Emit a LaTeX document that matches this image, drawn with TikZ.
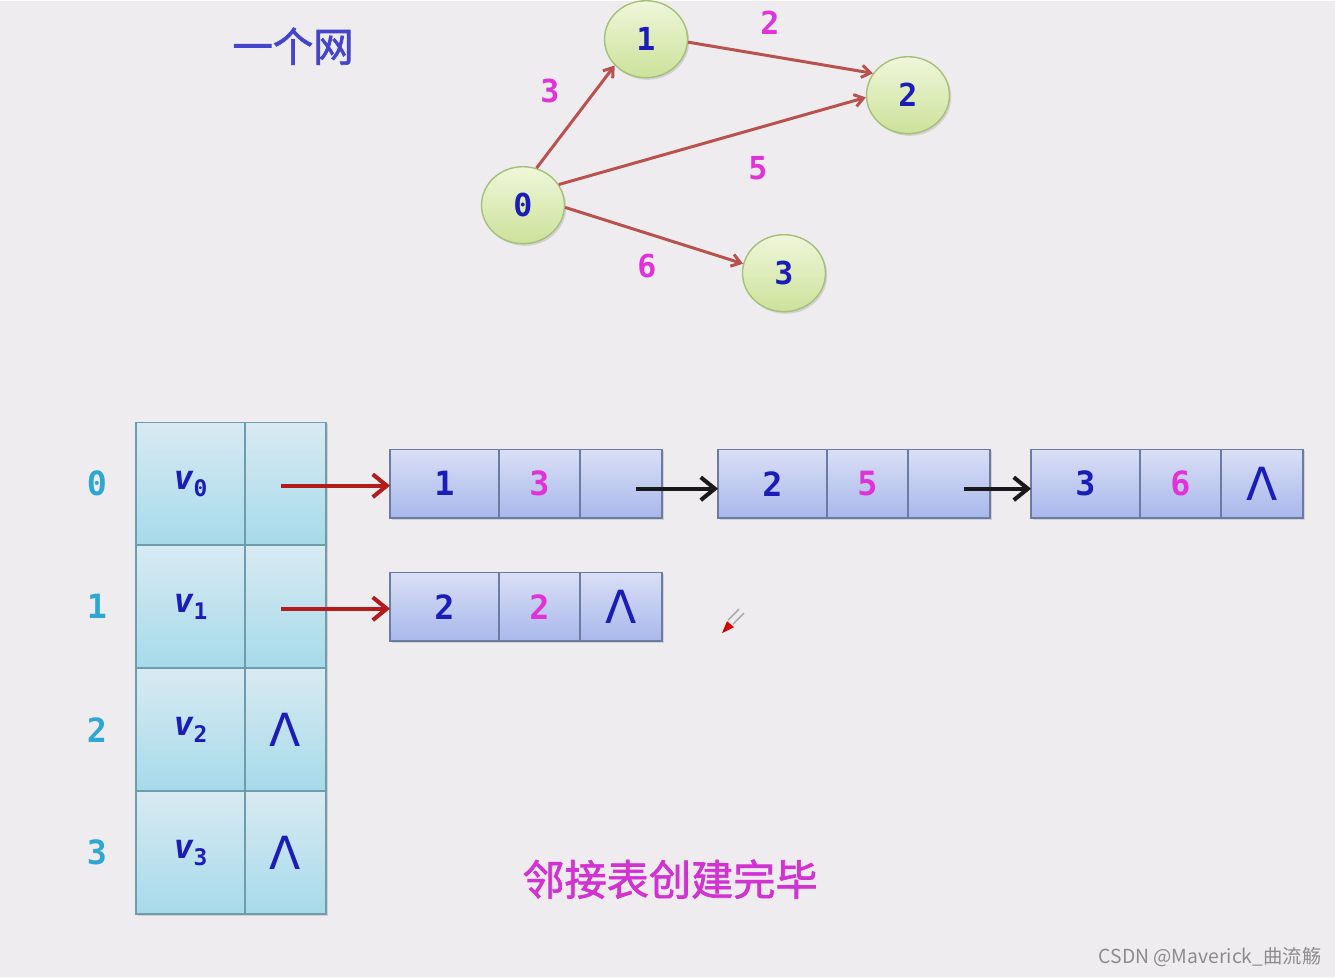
\documentclass[tikz,border=0pt]{standalone}
\usepackage{fontspec}
\setmonofont{DejaVu Sans Mono}
\newfontfamily\cjk{Noto Sans CJK SC}
\newfontfamily\cjkbold[FakeBold=1.6]{Noto Sans CJK SC}
\newfontfamily\lamfont{DejaVu Sans}
\usetikzlibrary{arrows.meta,calc,positioning,shapes.geometric,shadows}

\definecolor{bgcol}{HTML}{EEECEF}
\definecolor{vtxtop}{HTML}{EFF6DA}
\definecolor{vtxbot}{HTML}{CCE29A}
\definecolor{vtxline}{HTML}{A6BF7A}
\definecolor{arccol}{HTML}{B9524F}
\definecolor{wtcol}{HTML}{E032D8}
\definecolor{numblue}{HTML}{1C1CB8}
\definecolor{tabtop}{HTML}{D8EAF2}
\definecolor{tabbot}{HTML}{A6DAEA}
\definecolor{tabline}{HTML}{6E9CAC}
\definecolor{rowcyan}{HTML}{2EA8D2}
\definecolor{lsttop}{HTML}{DADFF5}
\definecolor{lstbot}{HTML}{A8B8EC}
\definecolor{lstline}{HTML}{6C7BA2}
\definecolor{ptrred}{HTML}{B41C1C}
\definecolor{titleblue}{HTML}{4444CC}
\definecolor{donecol}{HTML}{D232D2}

\newcommand\nil{{\lamfont\mdseries\upshape\fontsize{26}{26}\selectfont Λ}}
\newcommand\vname[1]{{\itshape v}\raisebox{-0.4ex}{\fontsize{13}{13}\selectfont #1}}

\tikzset{
  shade/.style={drop shadow={shadow xshift=1pt, shadow yshift=-1.2pt, opacity=0.25}},
  vtx/.style={ellipse, draw=vtxline, line width=0.8pt, top color=vtxtop, bottom color=vtxbot,
    minimum width=1.66cm, minimum height=1.54cm, inner sep=0pt, text=numblue,
    font=\ttfamily\bfseries\fontsize{18}{18}\selectfont, shade},
  arc/.style={draw=arccol, line width=1.7pt, -{Straight Barb[length=5pt,width=7pt]}},
  wt/.style={text=wtcol, font=\ttfamily\bfseries\fontsize{18}{18}\selectfont},
  tcell/.style={rectangle, draw=tabline, line width=0.8pt, top color=tabtop, bottom color=tabbot,
    minimum height=2.46cm, inner sep=0pt, outer sep=0pt, text=numblue,
    font=\ttfamily\bfseries\fontsize{19}{19}\selectfont, shade},
  vcell/.style={tcell, minimum width=2.18cm},
  pcell/.style={tcell, minimum width=1.62cm},
  rowlbl/.style={text=rowcyan, font=\ttfamily\bfseries\fontsize{19}{19}\selectfont},
  lcell/.style={rectangle, draw=lstline, line width=0.8pt, top color=lsttop, bottom color=lstbot,
    minimum height=1.38cm, inner sep=0pt, outer sep=0pt, text=numblue,
    font=\ttfamily\bfseries\fontsize{19}{19}\selectfont, shade},
  acell/.style={lcell, minimum width=2.18cm},
  wcell/.style={lcell, minimum width=1.62cm, text=wtcol},
  ncell/.style={lcell, minimum width=1.64cm},
  ptr/.style={draw=ptrred, line width=2.3pt, -{Straight Barb[length=8pt,width=13pt]}},
  nxtarrow/.style={ptr, draw=black!90}
}

\begin{document}
\begin{tikzpicture}[x=0.02cm, y=-0.02cm]
  \fill[bgcol] (0,0) rectangle (1335,976);

  % the network
  \node[text=titleblue, font=\cjkbold\fontsize{23}{23}\selectfont] (title) at (293,45) {一个网};
  \node[vtx] (n0) at (523,204) {0};
  \node[vtx] (n1) at (646,38) {1};
  \node[vtx] (n2) at (908,94) {2};
  \node[vtx] (n3) at (784,272) {3};
  \draw[arc] (n0.70) -- (n1.220);
  \draw[arc] (n1.-4) -- (n2.148);
  \draw[arc] (n0.30) -- (n2.183);
  \draw[arc] (n0.-3) -- (n3.167);
  \node[wt] (w01) at (550,90) {3};
  \node[wt] (w12) at (770,22) {2};
  \node[wt] (w02) at (758,167) {5};
  \node[wt] (w03) at (647,265) {6};

  % vertex table
  \foreach \i in {0,...,3} {
    \node[vcell] (vx\i) at (190.5,{482.5+123*\i}) {\vname{\i}};
    \node[pcell, right=0pt of vx\i] (fp\i) {\ifnum\i>1 \nil\fi};
    \node[rowlbl] (r\i) at (97,{482.5+123*\i}) {\i};
  }

  % edge lists
  \foreach \e/\x/\y/\adj/\wtv/\nxt in {e1/444.5/482.5/1/3/{}, e2/772.5/482.5/2/5/{},
      e3/1085.5/482.5/3/6/\nil, e4/444.5/605.5/2/2/\nil} {
    \node[acell] (\e a) at (\x,\y) {\adj};
    \node[wcell, right=0pt of \e a] (\e w) {\wtv};
    \node[ncell, right=0pt of \e w] (\e n) {\nxt};
  }

  \draw[ptr] ($(fp0.center)+(-4,2)$) -- ($(e1a.west)+(0,2)$);
  \draw[ptr] ($(fp1.center)+(-4,2)$) -- ($(e4a.west)+(0,2)$);
  \draw[nxtarrow] ($(e1n.center)+(15,5)$) -- ($(e2a.west)+(0,5)$);
  \draw[nxtarrow] ($(e2n.center)+(15,5)$) -- ($(e3a.west)+(0,5)$);

  % pen cursor
  \draw[gray!70, line width=0.8pt] (728,619) -- (739,608) (733,623) -- (744,612);
  \fill[red!85!black] (722,632) -- (727,620) -- (734,626) -- cycle;

  \node[text=donecol, font=\cjkbold\fontsize{24}{24}\selectfont] (done) at (670,878) {邻接表创建完毕};
  \node[text=black!45, font=\cjk\fontsize{11}{11}\selectfont] (mark) at (1210,956) {CSDN @Maverick\_曲流觞};
\end{tikzpicture}
\end{document}
